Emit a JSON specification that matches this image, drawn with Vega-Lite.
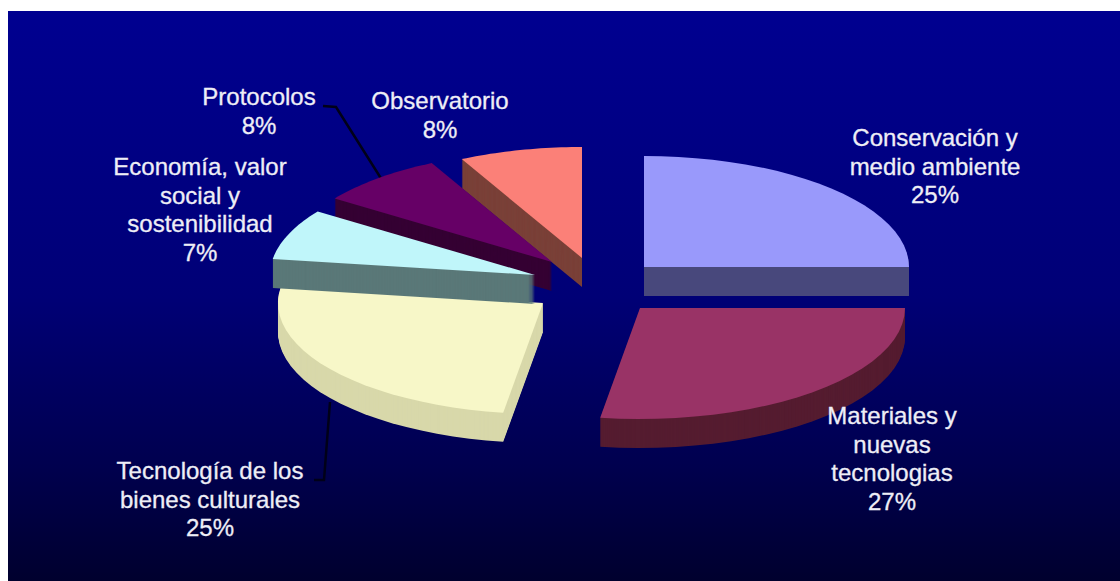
{
"$schema":"https://vega.github.io/schema/vega-lite/v6.json",
"width":1120,"height":581,
"autosize":{"type":"fit","contains":"padding"},
"padding":0,
"background":"#ffffff",
"config":{"view":{"stroke":null}},
"data":{"name":"temas","values":[
{"orden":6,"tema":"Observatorio","porcentaje":7.5},
{"orden":5,"tema":"Protocolos","porcentaje":7.8},
{"orden":1,"tema":"Conservación y\nmedio ambiente","porcentaje":25},
{"orden":3,"tema":"Tecnología de los\nbienes culturales","porcentaje":24.9},
{"orden":4,"tema":"Economía, valor\nsocial y\nsostenibilidad","porcentaje":7.4},
{"orden":2,"tema":"Materiales y\nnuevas\ntecnologias","porcentaje":27.4}
]},
"layer":[
{
"data":{"values":[{"panel":1}]},
"mark":{"type":"rect","color":{"gradient":"linear","x1":0,"y1":0,"x2":0,"y2":1,"stops":[{"offset":0,"color":"#000090"},{"offset":0.5,"color":"#000076"},{"offset":0.8,"color":"#00004e"},{"offset":1,"color":"#00002e"}]}},
"encoding":{
"x":{"datum":8,"type":"quantitative","scale":{"domain":[0,1120],"nice":false,"zero":false},"axis":null},
"x2":{"datum":1120},
"y":{"datum":11,"type":"quantitative","scale":{"domain":[581,0],"nice":false,"zero":false},"axis":null},
"y2":{"datum":581}
}
},
{
"transform":[
{"filter":"datum.orden==3||datum.orden==5"},
{"calculate":"datum.orden==3?[[314,480,0],[324,480,1],[330,402,2]]:[[323,106,0],[336,107,1],[382,180,2]]","as":"guia"},
{"flatten":["guia"]},
{"calculate":"datum.guia[0]","as":"gx"},
{"calculate":"datum.guia[1]","as":"gy"},
{"calculate":"datum.guia[2]","as":"gi"}
],
"mark":{"type":"line","color":"#000018","strokeWidth":2.5},
"encoding":{
"x":{"field":"gx","type":"quantitative"},
"y":{"field":"gy","type":"quantitative"},
"detail":{"field":"orden"},
"order":{"field":"gi","type":"quantitative"}
}
},
{
"transform":[
{"window":[{"op":"sum","field":"porcentaje","as":"acum"}],"sort":[{"field":"orden","order":"ascending"}]},
{"calculate":"(datum.acum-datum.porcentaje)/100*2*PI","as":"a0"},
{"calculate":"datum.acum/100*2*PI","as":"a1"},
{"calculate":"[644,640,543,535,552,582][datum.orden-1]","as":"ax"},
{"calculate":"[267,308,303,275,262,258][datum.orden-1]","as":"ay"},
{"calculate":"[-1,0,1,2,3,4,5,6,7,8,9,10,11,12,13,14,15,16,17,18,19,20,21,22,23,24]","as":"p"},
{"flatten":["p"]},
{"calculate":"[29,28,27,26,25,24,23,22,21,20,19,18,17,16,15,14,13,12,11,10,9,8,7,6,5,4,3,2,1,0]","as":"d"},
{"flatten":["d"]},
{"calculate":"datum.a0+(datum.a1-datum.a0)*datum.p/24","as":"ang"},
{"calculate":"datum.p<0?datum.ax:datum.ax+265*sin(datum.ang)","as":"px"},
{"calculate":"(datum.p<0?datum.ay:datum.ay-111*cos(datum.ang))+datum.d","as":"py"},
{"calculate":"datum.orden+'-'+datum.d","as":"capa"},
{"calculate":"datum.orden+(datum.d==0?'a':'b')","as":"cara"}
],
"mark":{"type":"line","strokeWidth":0,"interpolate":"linear"},
"encoding":{
"x":{"field":"px","type":"quantitative"},
"y":{"field":"py","type":"quantitative"},
"detail":{"field":"capa"},
"order":{"field":"p","type":"quantitative"},
"fill":{"field":"cara","type":"nominal","legend":null,"scale":{
"domain":["1a","1b","2a","2b","3a","3b","4a","4b","5a","5b","6a","6b"],
"range":["#9999fb","#48487c","#993366","#551c30","#f7f7c8","#d8d8aa","#c0f6fa","#5a7878","#660066","#350033","#fb8078","#7a4038"]}}
}
},
{
"transform":[
{"calculate":"[935,892,210,200,259,440][datum.orden-1]","as":"lx"},
{"calculate":"[146,424,479,175,105,109][datum.orden-1]","as":"ly"},
{"calculate":"datum.tema+'\\n'+round(datum.porcentaje)+'%'","as":"rotulo"}
],
"mark":{"type":"text","font":"Liberation Sans","fontSize":24,"color":"#eeeef6","align":"center","baseline":"alphabetic","lineBreak":"\n","lineHeight":28.5,"stroke":"#eeeef6","strokeWidth":0.3},
"encoding":{
"x":{"field":"lx","type":"quantitative"},
"y":{"field":"ly","type":"quantitative"},
"text":{"field":"rotulo"}
}
}
]
}
